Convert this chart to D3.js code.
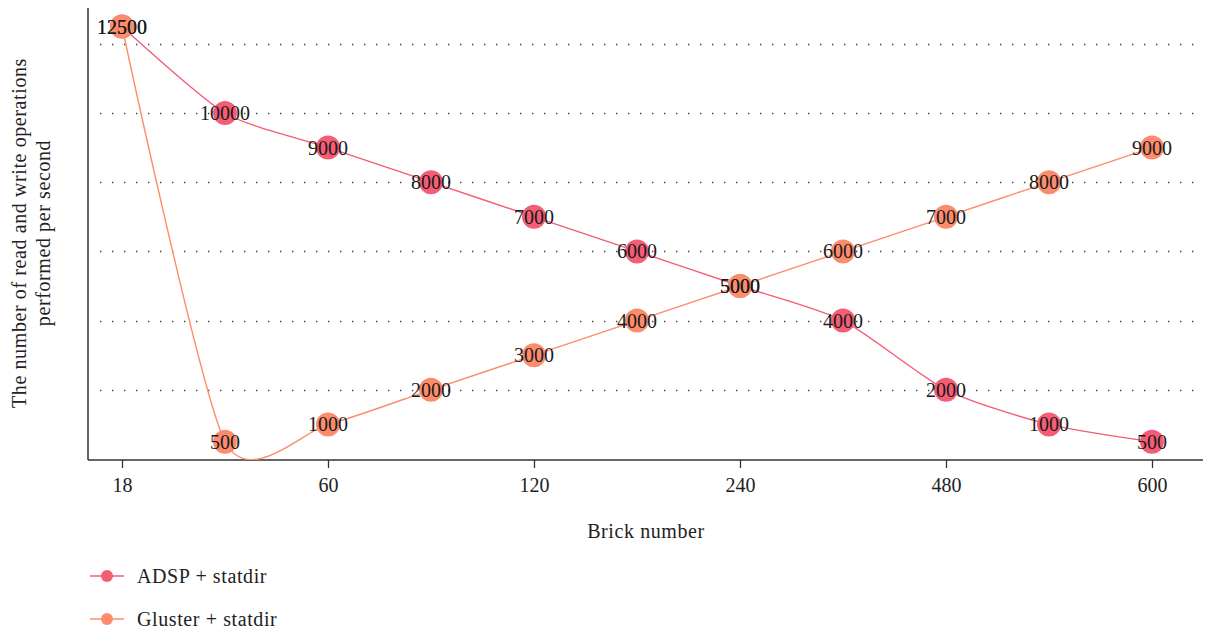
<!DOCTYPE html>
<html><head><meta charset="utf-8">
<script src="https://cdn.jsdelivr.net/npm/d3@7"></script>
<style>body{margin:0;background:#fff}svg{display:block}</style>
</head><body>
<svg id="c" width="1206" height="631"></svg>
<script>
const categories = ["18","30","60","90","120","180","240","360","480","540","600"];
const tickLabels = ["18","60","120","240","480","600"];
const adsp = [12500,10000,9000,8000,7000,6000,5000,4000,2000,1000,500];
const gluster = [12500,500,1000,2000,3000,4000,5000,6000,7000,8000,9000];
const gridValues = [2000,4000,6000,8000,10000,12000];
const seriesNames = ["ADSP + statdir","Gluster + statdir"];
const colors = ["#f45d74","#fc8c6c"];

(function(){
const font = "'Liberation Serif','DejaVu Serif',serif";
const fs = 20, ls = "0.6px";
const svg = d3.select("#c");
const pL = 88, pR = 1203, pT = 8, pB = 460;
const x = d3.scalePoint().domain(categories).range([122,1152]);
const y = d3.scaleLinear().domain([0,12500]).range([459,26.5]);

svg.append("defs").append("clipPath").attr("id","clip")
  .append("rect").attr("x",pL).attr("y",0).attr("width",pR-pL).attr("height",pB);

// grid
svg.append("g").selectAll("line").data(gridValues).join("line")
  .attr("x1",100).attr("x2",1200)
  .attr("y1",d=>Math.round(y(d))+0.5).attr("y2",d=>Math.round(y(d))+0.5)
  .attr("stroke","#444").attr("stroke-width",1.4).attr("stroke-dasharray","1.4,10.6");

// axes
const xAxis = d3.axisBottom(x).tickValues(tickLabels).tickSize(8).tickPadding(10);
const gx = svg.append("g").attr("transform",`translate(0,${pB})`).call(xAxis);
gx.select(".domain").remove();
gx.selectAll(".tick line").attr("stroke","#333").attr("stroke-width",1.3);
gx.selectAll(".tick text").attr("font-family",font).attr("font-size",fs).attr("fill","#222");
svg.append("line").attr("x1",pL).attr("x2",pR).attr("y1",pB).attr("y2",pB)
  .attr("stroke","#333").attr("stroke-width",1.5);
svg.append("line").attr("x1",pL).attr("x2",pL).attr("y1",pT).attr("y2",pB)
  .attr("stroke","#333").attr("stroke-width",1.5);

// titles
svg.append("text").attr("x",646).attr("y",538).attr("text-anchor","middle")
  .attr("font-family",font).attr("font-size",fs).attr("letter-spacing",ls).attr("fill","#222").text("Brick number");
const yt = svg.append("text").attr("transform","translate(26,233) rotate(-90)")
  .attr("text-anchor","middle").attr("font-family",font).attr("font-size",fs).attr("letter-spacing",ls).attr("fill","#222");
yt.append("tspan").attr("x",0).attr("dy",0).text("The number of read and write operations");
yt.append("tspan").attr("x",0).attr("dy",24).text("performed per second");

const series = [adsp, gluster];
const line = d3.line().x((d,i)=>x(categories[i])).y(d=>y(d)).curve(d3.curveCardinal.tension(0.3));
const plot = svg.append("g");
series.forEach((s,k)=>{
  plot.append("path").datum(s).attr("d",line).attr("fill","none")
    .attr("stroke",colors[k]).attr("stroke-width",1.4).attr("clip-path","url(#clip)");
});
series.forEach((s,k)=>{
  plot.append("g").selectAll("circle").data(s).join("circle")
    .attr("cx",(d,i)=>x(categories[i])).attr("cy",d=>y(d)).attr("r",12).attr("fill",colors[k]);
});
series.forEach((s,k)=>{
  plot.append("g").selectAll("text").data(s).join("text")
    .attr("x",(d,i)=>x(categories[i])).attr("y",d=>y(d)).attr("dy","0.35em")
    .attr("text-anchor","middle").attr("font-family",font).attr("font-size",fs).attr("fill","#1a1a1a")
    .text(d=>d);
});

// legend
seriesNames.forEach((n,k)=>{
  const ly = 576 + k*43;
  const g = svg.append("g");
  g.append("line").attr("x1",90).attr("x2",124).attr("y1",ly).attr("y2",ly).attr("stroke",colors[k]).attr("stroke-width",1.4);
  g.append("circle").attr("cx",107).attr("cy",ly).attr("r",6).attr("fill",colors[k]);
  g.append("text").attr("x",137).attr("y",ly).attr("dy","0.35em").attr("font-family",font)
    .attr("font-size",fs).attr("letter-spacing",ls).attr("fill","#222").text(n);
});
})();
</script>
</body></html>
